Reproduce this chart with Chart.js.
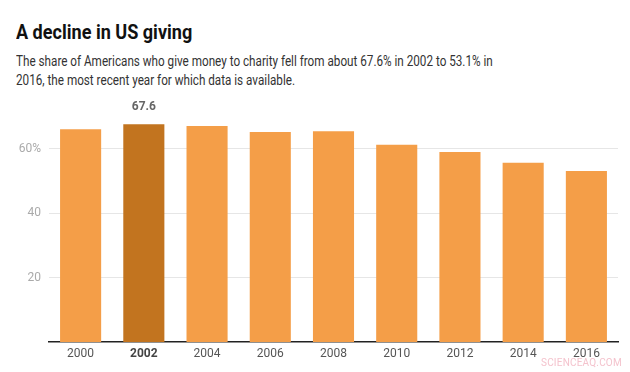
<!DOCTYPE html>
<html>
<head>
<meta charset="utf-8">
<script src="https://cdn.jsdelivr.net/npm/chart.js@4/dist/chart.umd.min.js"></script>
<style>
  body { margin: 0; width: 630px; height: 372px; background: #fff; font-family: Roboto, sans-serif; overflow: hidden; position: relative; }
  #title { position: absolute; left: 16px; top: 20px; font-size: 21px; font-weight: bold; color: #111; white-space: nowrap; transform: scaleX(0.86); transform-origin: left top; }
  #sub { position: absolute; left: 16px; top: 52px; font-size: 15px; line-height: 18.5px; color: #333; white-space: nowrap; transform: scaleX(0.78); transform-origin: left top; }
  #wrap { position: absolute; left: 0; top: 95px; width: 630px; height: 277px; }
  #mark { position: absolute; left: 541px; top: 357px; font-size: 10px; color: #f4c3cd; letter-spacing: 0.2px; }
</style>
</head>
<body>
<div id="title">A decline in US giving</div>
<div id="sub">The share of Americans who give money to charity fell from about 67.6% in 2002 to 53.1% in<br>2016, the most recent year for which data is available.</div>
<div id="wrap"><canvas id="myChart"></canvas></div>
<div id="mark">SCIENCEAQ.COM</div>
<script>
var years = ['2000', '2002', '2004', '2006', '2008', '2010', '2012', '2014', '2016'];
var share = [66.1, 67.6, 67.1, 65.2, 65.5, 61.3, 59.0, 55.7, 53.1];
var yTicks = [20, 40, 60];
var highlight = 1;

var orange = '#f49e48';
var dark = '#c2741f';

// label above the highlighted bar
const valueLabel = {
    id: 'valueLabel',
    afterDatasetsDraw(chart) {
        var bar = chart.getDatasetMeta(0).data[highlight];
        var ctx = chart.ctx;
        ctx.save();
        ctx.font = 'bold 12px Roboto';
        ctx.fillStyle = '#666';
        ctx.textAlign = 'center';
        ctx.textBaseline = 'middle';
        ctx.fillText(share[highlight].toFixed(1), bar.x, bar.y - 17);
        ctx.restore();
    }
};

var ctx = document.getElementById('myChart').getContext('2d');
var chart = new Chart(ctx, {
    type: 'bar',
    data: {
        labels: years,
        datasets: [{
            data: share,
            backgroundColor: years.map((y, i) => i == highlight ? dark : orange),
            borderWidth: 0,
            barPercentage: 0.65,
            categoryPercentage: 1
        }]
    },
    options: {
        responsive: true,
        maintainAspectRatio: false,
        animation: false,
        layout: { padding: { top: 15, right: 12, bottom: 0, left: 0 } },
        plugins: {
            legend: { display: false },
            tooltip: { enabled: false }
        },
        scales: {
            x: {
                grid: { display: false, drawTicks: false },
                border: { color: '#222', width: 1.5 },
                ticks: {
                    color: ctx => ctx.index == highlight ? '#444' : '#555',
                    font: ctx => ({ family: 'Roboto', size: 12, weight: ctx.index == highlight ? 'bold' : 'normal' }),
                    padding: 5
                },
                afterFit: s => { s.height = 30; }
            },
            y: {
                min: 0,
                max: 72,
                afterBuildTicks: s => { s.ticks = yTicks.map(v => ({ value: v })); },
                afterFit: s => { s.width = 49; },
                border: { display: false },
                grid: { color: '#e6e6e6', drawTicks: false },
                ticks: {
                    color: '#aaa',
                    font: { family: 'Roboto', size: 12 },
                    padding: 8,
                    callback: v => v == 60 ? v + '%' : v
                }
            }
        }
    },
    plugins: [valueLabel]
});
</script>
</body>
</html>
